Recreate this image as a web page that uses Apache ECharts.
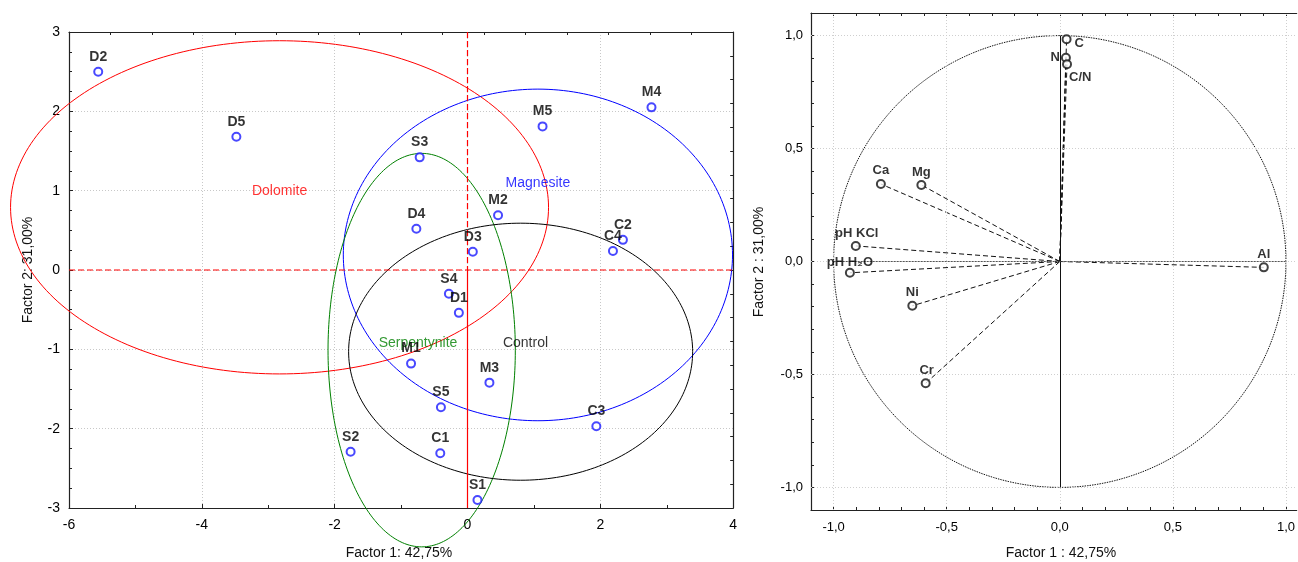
<!DOCTYPE html>
<html><head><meta charset="utf-8">
<script src="https://cdn.jsdelivr.net/npm/echarts@6/dist/echarts.min.js"></script>
<style>html,body{margin:0;padding:0;background:#fff}#c{width:1298px;height:562px}</style>
</head><body><div id="c"></div>
<script>
// ---- Left plot: sample scores ----
const sampleNames = ['D1','D2','D3','D4','D5','M1','M2','M3','M4','M5','S1','S2','S3','S4','S5','C1','C2','C3','C4'];
const sampleF1 = [-0.13,-5.56,0.08,-0.77,-3.48,-0.85,0.46,0.33,2.77,1.13,0.15,-1.76,-0.72,-0.28,-0.40,-0.41,2.34,1.94,2.19];
const sampleF2 = [-0.54,2.50,0.23,0.52,1.68,-1.18,0.69,-1.42,2.05,1.81,-2.90,-2.29,1.42,-0.30,-1.73,-2.31,0.38,-1.97,0.24];

const groupNames = ['Dolomite','Magnesite','Serpentynite','Control'];
const groupCenterF1 = [-2.83, 1.06, -0.69, 0.80];
const groupCenterF2 = [0.79, 0.19, -1.01, -1.03];
const groupRadiusF1 = [4.05, 2.93, 1.41, 2.59];
const groupRadiusF2 = [2.10, 2.09, 2.48, 1.62];
const groupLabelF1 = [-2.83, 1.06, -0.745, 0.873];
const groupLabelF2 = [0.99, 1.10, -0.92, -0.92];

// ---- Right plot: variable loadings ----
const varNames = ['C','N','C/N','Ca','Mg','pH KCl','pH H₂O','Ni','Cr','Al'];
const varF1 = [0.030, 0.027, 0.032, -0.791, -0.612, -0.902, -0.928, -0.652, -0.593, 0.902];
const varF2 = [0.984, 0.902, 0.873, 0.343, 0.339, 0.069, -0.050, -0.196, -0.539, -0.026];

const loadLabelValues = [-1, -0.5, 0, 0.5, 1];
const loadTickValues = [-1.1,-1.0,-0.9,-0.8,-0.7,-0.6,-0.5,-0.4,-0.3,-0.2,-0.1,0,0.1,0.2,0.3,0.4,0.5,0.6,0.7,0.8,0.9,1.0];
const loadTickValuesY = [-1.1,-1.0,-0.9,-0.8,-0.7,-0.6,-0.5,-0.4,-0.3,-0.2,-0.1,0,0.1,0.2,0.3,0.4,0.5,0.6,0.7,0.8,0.9,1.0,1.1];

// ---- axis extents of the score plot ----
const F1_MIN = -6, F1_MAX = 4, F2_MIN = -3, F2_MAX = 3;

// ---- styling ----
const FONT = '"Liberation Sans", Arial, sans-serif';
const groupColors = ['#ff0000','#0000ff','#008000','#000000'];
const axisLineStyle = {color:'#222', width:1.2};
const varLabelStyle = {
  'C':      {position:'right', distance:3, offset:[0,4]},
  'N':      {position:'left', distance:1, offset:[0,0]},
  'C/N':    {position:'right', distance:-3, offset:[0,13]},
  'Ca':     {position:'top', distance:2, offset:[0,0]},
  'Mg':     {position:'top', distance:1, offset:[0,0]},
  'pH KCl': {position:'top', distance:1, offset:[1,0]},
  'pH H₂O': {position:'top', distance:0, offset:[0,1]},
  'Ni':     {position:'top', distance:2, offset:[0,0]},
  'Cr':     {position:'top', distance:1, offset:[1,0]},
  'Al':     {position:'top', distance:1, offset:[0,0]}
};
const fmtComma = v => Number(v).toFixed(1).replace('.', ',');

const chart = echarts.init(document.getElementById('c'), null, {renderer:'canvas'});

const ellipseData = groupNames.map((n,i)=>[groupCenterF1[i], groupCenterF2[i], groupRadiusF1[i], groupRadiusF2[i]]);
const sampleData = sampleNames.map((n,i)=>({name:n, value:[sampleF1[i], sampleF2[i]]}));
const groupLabelData = groupNames.map((n,i)=>({name:n, value:[groupLabelF1[i], groupLabelF2[i]],
  label:{color:groupColors[i]}}));
const varData = varNames.map((n,i)=>({name:n, value:[varF1[i], varF2[i]],
  label:Object.assign({}, varLabelStyle[n])}));

// right plot: x spans -1.1 .. (cropped at the page edge)
const R_LEFT = 811, R_WIDTH = 487, R_UNIT = 226.8;
const R_XMAX = -1.1 + R_WIDTH / R_UNIT;

const option = {
  animation:false,
  backgroundColor:'#fff',
  textStyle:{fontFamily:FONT},
  grid:[
    {left:69, top:32, width:664.17, height:476, containLabel:false},
    {left:R_LEFT, top:13, width:R_WIDTH, height:497, containLabel:false}
  ],
  xAxis:[
    {gridIndex:0, type:'value', position:'bottom', min:F1_MIN, max:F1_MAX, interval:2,
     axisLine:{show:true, onZero:false, lineStyle:axisLineStyle},
     axisTick:{show:true, inside:true, length:4, lineStyle:{color:'#222'}},
     minorTick:{show:true, splitNumber:2, length:3, lineStyle:{color:'#222'}},
     splitLine:{show:true, lineStyle:{color:'#c8c8c8', type:[1,2]}},
     axisLabel:{color:'#000', fontSize:14, margin:10, fontFamily:FONT}},
    {gridIndex:0, type:'value', position:'top', min:0, max:16, interval:1,
     axisLine:{show:true, onZero:false, lineStyle:axisLineStyle},
     axisTick:{show:true, inside:true, length:3, lineStyle:{color:'#222'}},
     splitLine:{show:false}, axisLabel:{show:false}},
    {gridIndex:1, type:'value', position:'bottom', min:-1.1, max:R_XMAX,
     axisLine:{show:true, onZero:false, lineStyle:axisLineStyle},
     axisTick:{show:true, inside:true, length:3, customValues:loadTickValues, lineStyle:{color:'#222'}},
     splitLine:{show:false},
     axisLabel:{color:'#000', fontSize:13, margin:11, fontFamily:FONT, customValues:loadLabelValues, formatter:fmtComma}},
    {gridIndex:1, type:'value', position:'top', min:-1.1, max:R_XMAX,
     axisLine:{show:true, onZero:false, lineStyle:axisLineStyle},
     axisTick:{show:true, inside:true, length:3, customValues:loadTickValues, lineStyle:{color:'#222'}},
     splitLine:{show:false}, axisLabel:{show:false}}
  ],
  yAxis:[
    {gridIndex:0, type:'value', position:'left', min:F2_MIN, max:F2_MAX, interval:1,
     axisLine:{show:true, onZero:false, lineStyle:axisLineStyle},
     axisTick:{show:true, inside:true, length:4, lineStyle:{color:'#222'}},
     minorTick:{show:true, splitNumber:4, length:3, lineStyle:{color:'#222'}},
     splitLine:{show:true, lineStyle:{color:'#c8c8c8', type:[1,2]}},
     axisLabel:{color:'#000', fontSize:14, margin:9, fontFamily:FONT}},
    {gridIndex:0, type:'value', position:'right', min:0, max:20, interval:1,
     axisLine:{show:true, onZero:false, lineStyle:axisLineStyle},
     axisTick:{show:true, inside:true, length:3, lineStyle:{color:'#222'}},
     splitLine:{show:false}, axisLabel:{show:false}},
    {gridIndex:1, type:'value', position:'left', min:-1.1, max:1.1,
     axisLine:{show:true, onZero:false, lineStyle:axisLineStyle},
     axisTick:{show:true, inside:true, length:3, customValues:loadTickValuesY, lineStyle:{color:'#222'}},
     splitLine:{show:false},
     axisLabel:{color:'#000', fontSize:13, margin:8, fontFamily:FONT, customValues:loadLabelValues, formatter:fmtComma}},
    {gridIndex:1, type:'value', position:'right', min:-1.1, max:1.1,
     axisLine:{show:false, onZero:false}, axisTick:{show:false}, splitLine:{show:false}, axisLabel:{show:false}}
  ],
  graphic:[
    {type:'text', x:399, y:553, style:{text:'Factor 1: 42,75%', fontSize:14, fontFamily:FONT, fill:'#111', align:'center', verticalAlign:'middle'}},
    {type:'text', x:28, y:270, rotation:Math.PI/2, style:{text:'Factor 2: 31,00%', fontSize:14, fontFamily:FONT, fill:'#111', align:'center', verticalAlign:'middle'}},
    {type:'text', x:1061, y:553, style:{text:'Factor 1 : 42,75%', fontSize:14, fontFamily:FONT, fill:'#111', align:'center', verticalAlign:'middle'}},
    {type:'text', x:759, y:262, rotation:Math.PI/2, style:{text:'Factor 2 : 31,00%', fontSize:14, fontFamily:FONT, fill:'#111', align:'center', verticalAlign:'middle'}}
  ],
  series:[
    // red origin lines of the score plot
    {type:'custom', xAxisIndex:0, yAxisIndex:0, silent:true, z:5,
     data:[[0,0]],
     renderItem:function(params, api){
       const o=api.coord([api.value(0), api.value(1)]);
       const l=api.coord([F1_MIN, api.value(1)]), r=api.coord([F1_MAX, api.value(1)]);
       const t=api.coord([api.value(0), F2_MAX]), b=api.coord([api.value(0), F2_MIN]);
       const red='#ff0000';
       return {type:'group', children:[
         {type:'line', shape:{x1:l[0], y1:o[1], x2:r[0], y2:o[1]}, style:{stroke:red, lineWidth:1.2, lineDash:[6,3]}},
         {type:'line', shape:{x1:o[0], y1:t[1], x2:o[0], y2:o[1]}, style:{stroke:red, lineWidth:1.2, lineDash:[6,3]}},
         {type:'line', shape:{x1:o[0], y1:o[1], x2:o[0], y2:b[1]}, style:{stroke:red, lineWidth:1.2}}
       ]};
     }},
    // group ellipses
    {type:'custom', xAxisIndex:0, yAxisIndex:0, clip:false, silent:true, z:3,
     data:ellipseData,
     renderItem:function(params, api){
       const cx=api.value(0), cy=api.value(1), rx=api.value(2), ry=api.value(3);
       const pts=[];
       for(let k=0;k<240;k++){
         const t=k/240*2*Math.PI;
         pts.push(api.coord([cx+rx*Math.cos(t), cy+ry*Math.sin(t)]));
       }
       return {type:'polygon', shape:{points:pts}, style:{fill:'none', stroke:groupColors[params.dataIndex], lineWidth:1}};
     }},
    // group labels
    {type:'scatter', xAxisIndex:0, yAxisIndex:0, symbolSize:0, silent:true, z:4,
     data:groupLabelData,
     label:{show:true, position:'inside', formatter:'{b}', fontSize:14, fontFamily:FONT}},
    // sample points
    {type:'scatter', xAxisIndex:0, yAxisIndex:0, symbol:'emptyCircle', symbolSize:8, z:6,
     itemStyle:{color:'#1a1aff', borderColor:'#1a1aff', borderWidth:1.1},
     label:{show:true, position:'top', distance:3, formatter:'{b}', color:'#000', fontSize:14, fontWeight:'bold', fontFamily:FONT},
     data:sampleData},
    // unit circle
    {type:'custom', xAxisIndex:2, yAxisIndex:2, clip:false, silent:true, z:3,
     data:[[0,0,1]],
     renderItem:function(params, api){
       const r=api.value(2);
       const pts=[];
       for(let k=0;k<360;k++){
         const t=k/360*2*Math.PI;
         pts.push(api.coord([api.value(0)+r*Math.cos(t), api.value(1)+r*Math.sin(t)]));
       }
       return {type:'polygon', shape:{points:pts}, style:{fill:'none', stroke:'#111', lineWidth:1, lineDash:[1.5,1]}};
     }},
    // loading vectors
    {type:'custom', xAxisIndex:2, yAxisIndex:2, silent:true, z:4,
     data:varNames.map((n,i)=>[varF1[i], varF2[i]]),
     renderItem:function(params, api){
       const o=api.coord([0,0]);
       const p=api.coord([api.value(0), api.value(1)]);
       return {type:'line', shape:{x1:o[0], y1:o[1], x2:p[0], y2:p[1]}, style:{stroke:'#111', lineWidth:1, lineDash:[5,3]}};
     }},
    // loading points
    {type:'scatter', xAxisIndex:2, yAxisIndex:2, symbol:'emptyCircle', symbolSize:8, z:6,
     itemStyle:{color:'#111', borderColor:'#111', borderWidth:1},
     label:{show:true, formatter:'{b}', color:'#000', fontSize:13, fontWeight:'bold', fontFamily:FONT},
     data:varData,
     markLine:{silent:true, symbol:'none', animation:false, label:{show:false},
       lineStyle:{color:'#cfcfcf', type:[1,2], width:1},
       data:[
         {xAxis:-1},{xAxis:-0.5},{xAxis:0},{xAxis:0.5},{xAxis:1},
         {yAxis:-1},{yAxis:-0.5},{yAxis:0},{yAxis:0.5},{yAxis:1},
         [{coord:[0,-1], lineStyle:{color:'#111', type:'solid', width:1}},{coord:[0,1]}],
         [{coord:[-1,0], lineStyle:{color:'#555', type:[2,1], width:1}},{coord:[1,0]}]
       ]}}
  ]
};
chart.setOption(option);
</script>
</body></html>
